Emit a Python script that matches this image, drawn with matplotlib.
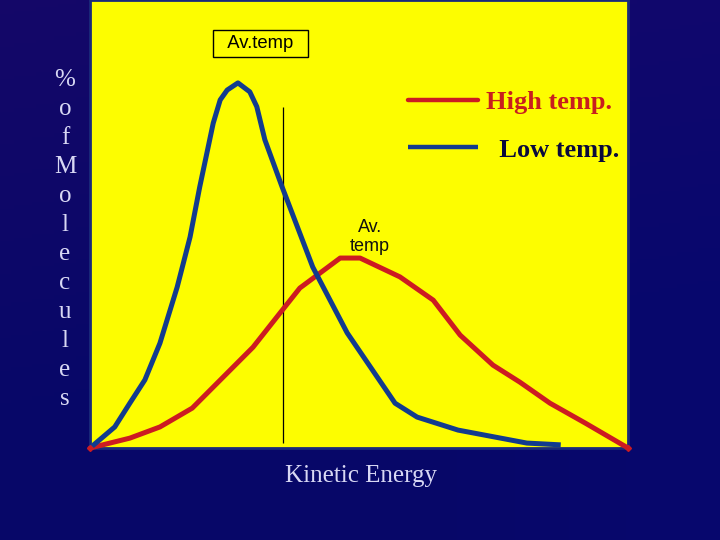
import numpy as np
import matplotlib
matplotlib.use("Agg")
import matplotlib.pyplot as plt

# kinetic energy (arbitrary units) vs % of molecules
low_x = [0, 4.6, 7.4, 10.2, 13.0, 16.2, 18.6, 20.4, 22.9, 24.2, 25.5, 27.5, 29.7,
         31.0, 32.5, 35.7, 41.4, 47.8, 56.7, 60.8, 68.4, 81.2, 87.5]
low_y = [0, 4.7, 10.0, 15.2, 23.4, 35.9, 47.1, 58.3, 72.5, 77.7, 79.9, 81.5, 79.5,
         76.2, 68.8, 58.3, 40.4, 25.7, 10.0, 6.9, 4.0, 1.1, 0.7]

high_x = [0, 7.4, 13.0, 19.0, 30.3, 35.3, 39.0, 46.5, 50.2, 57.6, 63.8, 68.8,
          74.9, 79.9, 85.5, 92.0, 100]
high_y = [0, 2.2, 4.7, 8.9, 22.5, 30.1, 35.7, 42.4, 42.4, 38.2, 33.0, 25.2,
          18.5, 14.7, 10.0, 5.6, 0]

avg_x = 35.9
avg_span = (1.1, 76.1)

series_labels = ["High temp.", "  Low temp."]
ylabel_letters = list("%ofMolecules")

fig = plt.figure(figsize=(7.2, 5.4), dpi=100)

# navy background with a faint gradient
bg = fig.add_axes([0, 0, 1, 1])
gx = np.linspace(0, 1, 200)
gy = np.linspace(0, 1, 150)
GX, GY = np.meshgrid(gx, gy)
r = 0.03 + 0.05 * np.clip(1 - GY * 1.3 - GX * 0.3, 0, 1)
g = 0.03 + 0.0 * GX
b = 0.41 + 0.05 * np.clip(GX - 0.6, 0, 1)
bg.imshow(np.dstack([r, g, b]), aspect="auto", extent=[0, 1, 0, 1], origin="upper")
bg.set_axis_off()

ax = fig.add_axes([90 / 720, (540 - 448) / 540, 538 / 720, 448 / 540])
ax.set_facecolor("#fdfd00")
ax.set_xlim(0, 100)
ax.set_ylim(0, 100)
for s in ax.spines.values():
    s.set_color("#1a2a7a")
    s.set_linewidth(2)
ax.set_xticks([])
ax.set_yticks([])

ax.plot(high_x, high_y, color="#cc1b22", lw=3.6, solid_capstyle="round",
        label=series_labels[0], clip_on=False, zorder=3)
ax.plot(low_x, low_y, color="#123b8e", lw=3.6, solid_capstyle="butt",
        label=series_labels[1], clip_on=False, zorder=4)
ax.plot([high_x[0], high_x[-1]], [high_y[0], high_y[-1]], "D", color="#cc1b22",
        ms=3, clip_on=False, zorder=5)
ax.vlines(avg_x, avg_span[0], avg_span[1], color="black", lw=0.9, zorder=2)

leg = ax.legend(loc="upper left", bbox_to_anchor=(0.547, 0.85), frameon=False,
                handlelength=2.65, handletextpad=0.3, labelspacing=0.9,
                prop={"family": "Liberation Serif", "weight": "bold", "size": 19})
for t, c in zip(leg.get_texts(), ["#c81e1e", "#0a0a3c"]):
    t.set_color(c)
for h in leg.get_lines():
    h.set_linewidth(3.2)

ax.text(0.317, 0.903, "  Av.temp  ", transform=ax.transAxes, ha="center", va="center",
        fontsize=13.3, family="Liberation Sans", color="black",
        bbox=dict(boxstyle="square,pad=0.28", fc="none", ec="black", lw=1))
ax.text(0.52, 0.471, "Av.\ntemp", transform=ax.transAxes, ha="center", va="center",
        fontsize=13, family="Liberation Sans", color="#111111", linespacing=1.1)

fig.text(361 / 720, 1 - 476 / 540, "Kinetic Energy", ha="center", va="center",
         fontsize=18, family="Liberation Serif", color="#d8d8f4")

for i, ch in enumerate(ylabel_letters):
    fig.text(65 / 720, 1 - (80 + i * 29.0) / 540, ch, ha="center", va="center",
             fontsize=18, family="Liberation Serif", color="#d8d8f4")

fig.savefig("out.png", dpi=100)
